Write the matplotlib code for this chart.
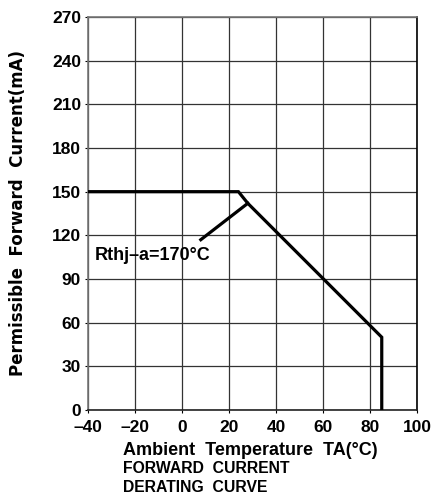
import matplotlib
matplotlib.use('Agg')
from matplotlib import pyplot as plt

# derating curve
temp = [-40, 24, 28, 85, 85]
current = [150, 150, 142, 50, 0]
# pointer of the Rthj-a label
ptr_x = [8, 28]
ptr_y = [117, 142]

xticks = [-40, -20, 0, 20, 40, 60, 80, 100]
yticks = [0, 30, 60, 90, 120, 150, 180, 210, 240, 270]

plt.rcParams['font.family'] = ['Liberation Sans', 'DejaVu Sans']
plt.rcParams['font.weight'] = 'bold'

fig = plt.figure(figsize=(4.41, 4.98), dpi=100)
ax = fig.add_axes([88/441, 1-410/498, (417-88)/441, (410-17)/498])

ax.plot(temp, current, color='black', lw=2.3, solid_joinstyle='miter', zorder=3)
ax.plot(ptr_x, ptr_y, color='black', lw=2.3, zorder=3)
ax.text(-37, 106, 'Rthj\u2013a=170\u00b0C', fontsize=13, fontweight='bold', va='center', ha='left')

ax.set_xlim(-40, 100)
ax.set_ylim(0, 270)
ax.set_xticks(xticks)
ax.set_yticks(yticks)
ax.set_xticklabels(['\u2013' + str(-t) if t < 0 else str(t) for t in xticks])
ax.tick_params(direction='out', length=2, width=0.8, labelsize=12.5, pad=3)
ax.tick_params(axis='x', pad=5)
for lab in ax.get_xticklabels() + ax.get_yticklabels():
    lab.set_fontweight('bold')
ax.grid(True, color='#333333', lw=0.9)
for s in ax.spines.values():
    s.set_color('#777777')
    s.set_linewidth(1.2)
ax.spines['right'].set_color('black')
ax.spines['bottom'].set_color('#222222')

fig.text(18/441, 1-213/498, 'Permissible  Forward  Current(mA)', fontsize=12, fontweight='bold',
         family='DejaVu Sans', rotation=90, va='center', ha='center')
fig.text(123/441, 1-450/498, 'Ambient  Temperature  TA(\u00b0C)', fontsize=13, fontweight='bold', va='center', ha='left')
fig.text(123/441, 1-468/498, 'FORWARD  CURRENT', fontsize=11.3, fontweight='bold', va='center', ha='left')
fig.text(123/441, 1-487/498, 'DERATING  CURVE', fontsize=11.3, fontweight='bold', va='center', ha='left')

fig.savefig('out.png', dpi=100)
